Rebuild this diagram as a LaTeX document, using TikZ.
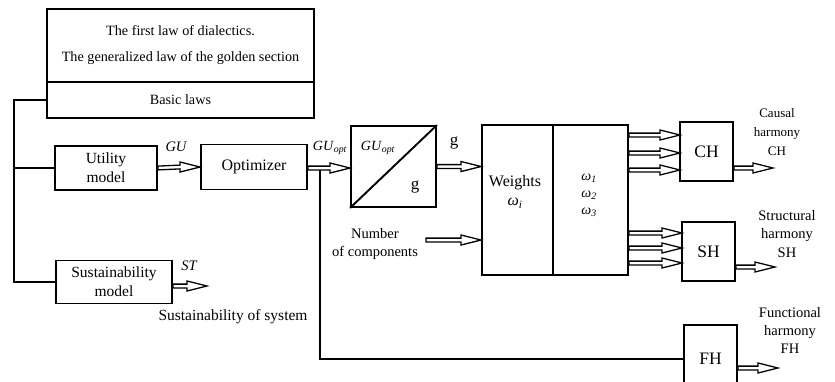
\documentclass[tikz,border=0pt]{standalone}
\usepackage{fontspec}
\setmainfont{Liberation Serif}
\usetikzlibrary{calc}
\begin{document}
\begin{tikzpicture}[x=1pt,y=-1pt]
\tikzset{
 box/.style={draw, line width=1.9pt, inner sep=0pt, align=center, font=\fontsize{15.5}{19}\selectfont},
 lbl/.style={inner sep=0pt, align=center, font=\fontsize{14.5}{19}\selectfont},
 wire/.style={line width=1.9pt},
 hollow/.style={line width=1.3pt, line join=miter, fill=white, to path={
   ($(\tikztostart)+(0,1.9)$) -- ($(\tikztotarget)+(-20,1.9)$) -- ($(\tikztotarget)+(-20,5)$)
   -- (\tikztotarget) -- ($(\tikztotarget)+(-20,-5)$) -- ($(\tikztotarget)+(-20,-1.9)$)
   -- ($(\tikztostart)+(0,-1.9)$) -- cycle}},
}
\useasboundingbox (0,0) rectangle (835,381);
% laws
\node[box, minimum width=267, minimum height=73, font=\fontsize{14.2}{26}\selectfont] (lawtop) at (180.5,45.5)
  {The first law of dialectics.\\The generalized law of the golden section};
\node[box, minimum width=267, minimum height=36, font=\fontsize{14.2}{17}\selectfont] (lawbot) at (180.5,100) {Basic laws};
% models
\node[box, minimum width=102, minimum height=44] (util) at (106,168) {Utility\\model};
\node[box, minimum width=106, minimum height=45, font=\fontsize{16}{19}\selectfont] (opt) at (254,167) {Optimizer};
\node[box, minimum width=116, minimum height=43] (sust) at (114,282) {Sustainability\\model};
% divider
\node[box, minimum width=85, minimum height=81] (div) at (393.5,166.5) {};
\draw[wire] (div.south west) -- (div.north east);
\node[lbl, font=\fontsize{14}{17}\selectfont] (gu2) at (378,148) {\textit{GU}\textsubscript{\textit{opt}}};
\node[lbl, font=\fontsize{17}{20}\selectfont] (g2) at (415,187) {g};
% weights
\node[box, minimum width=71, minimum height=150] (wts) at (517.5,200) {};
\node[box, minimum width=75, minimum height=150] (omg) at (590.5,200) {};
\node[lbl, font=\fontsize{16}{19}\selectfont] (wtxt) at (515,192) {Weights\\\textit{ω\textsubscript{i}}};
\node[lbl, font=\fontsize{14}{17}\selectfont] (otxt) at (589,195) {\textit{ω\textsubscript{1}}\\\textit{ω\textsubscript{2}}\\\textit{ω\textsubscript{3}}};
% harmony boxes
\node[box, minimum width=53, minimum height=59, font=\fontsize{17.5}{20}\selectfont] (ch) at (706.5,151.5) {CH};
\node[box, minimum width=53, minimum height=59, font=\fontsize{17.5}{20}\selectfont] (sh) at (708.5,251.5) {SH};
\node[box, minimum width=53, minimum height=68, font=\fontsize{17.5}{20}\selectfont] (fh) at (710.5,359) {FH};
% labels
\node[lbl, font=\fontsize{14.5}{17}\selectfont\itshape] (gu) at (176,147) {GU};
\node[lbl, font=\fontsize{14}{17}\selectfont] (guo) at (330,148) {\textit{GU}\textsubscript{\textit{opt}}};
\node[lbl, font=\fontsize{17}{20}\selectfont] (g1) at (454,143) {g};
\node[lbl, font=\fontsize{14.5}{17}\selectfont\itshape] (st) at (189,266) {ST};
\node[lbl, font=\fontsize{15.5}{17}\selectfont] (sos) at (233,317) {Sustainability of system};
\node[lbl, font=\fontsize{14.5}{18}\selectfont] (noc) at (375,244) {Number\\of components};
\node[lbl, font=\fontsize{13}{19}\selectfont] (chl) at (777,132) {Causal\\harmony\\CH};
\node[lbl, font=\fontsize{14.5}{18.5}\selectfont] (shl) at (787,234) {Structural\\harmony\\SH};
\node[lbl, font=\fontsize{14.5}{18}\selectfont] (fhl) at (790,330) {Functional\\harmony\\FH};
% wires
\coordinate (bus) at (14,100);
\draw[wire] (lawbot.west) -- (bus) |- (sust.west);
\draw[wire] (bus |- util.west) -- (util.west);
\coordinate (split) at (320,168);
\draw[wire] (split) |- (fh.west);
% hollow arrows
\draw[hollow] (util.east) to (opt.west);
\draw[hollow] (opt.east |- split) to (div.west |- split);
\draw[hollow] (div.east) to (wts.west |- div.east);
\coordinate (nocin) at (426,240);
\draw[hollow] (nocin) to (wts.west |- nocin);
\coordinate (c1) at (680,135); \coordinate (c2) at (680,153); \coordinate (c3) at (680,170);
\draw[hollow] (omg.east |- c1) to (c1);
\draw[hollow] (omg.east |- c2) to (c2);
\draw[hollow] (omg.east |- c3) to (c3);
\coordinate (s1) at (682,233); \coordinate (s2) at (682,248); \coordinate (s3) at (682,263);
\draw[hollow] (omg.east |- s1) to (s1);
\draw[hollow] (omg.east |- s2) to (s2);
\draw[hollow] (omg.east |- s3) to (s3);
\coordinate (cho) at (773,168);
\draw[hollow] (ch.east |- cho) to (cho);
\coordinate (sho) at (775,267);
\draw[hollow] (sh.east |- sho) to (sho);
\coordinate (fho) at (778,368);
\draw[hollow] (fh.east |- fho) to (fho);
\coordinate (sto) at (207,286);
\draw[hollow] (sust.east |- sto) to (sto);
\end{tikzpicture}
\end{document}
